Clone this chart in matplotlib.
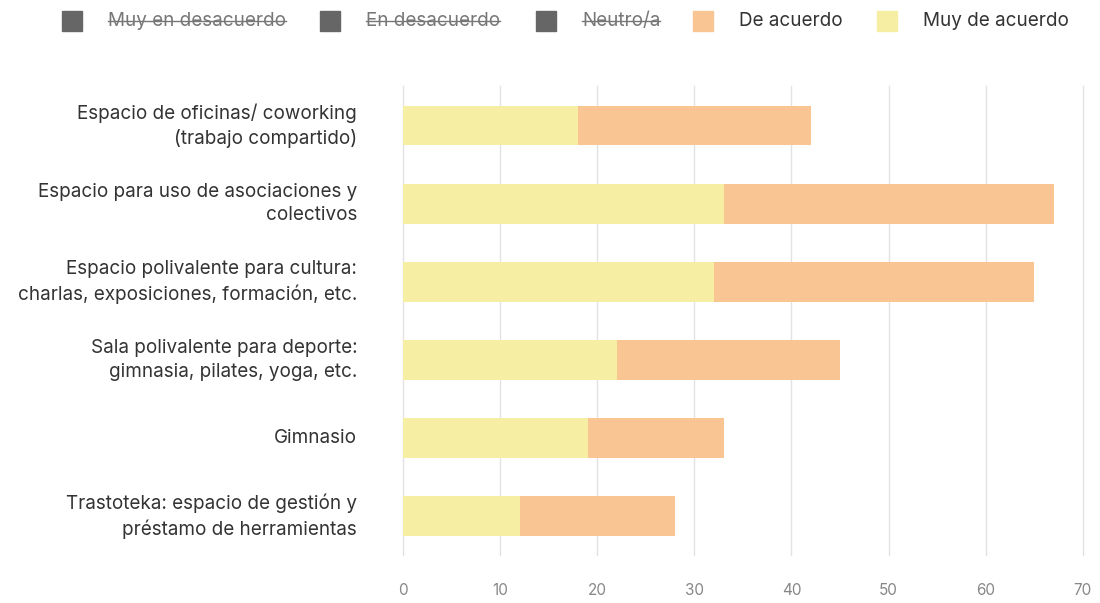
"""Stacked horizontal bars: opinion on uses for a space."""

import matplotlib.pyplot as plt
from matplotlib.lines import Line2D
import numpy as np

plt.rcParams["font.family"] = ["Inter", "DejaVu Sans"]

categories = [
    "Espacio de oficinas/ coworking\n(trabajo compartido)",
    "Espacio para uso de asociaciones y\ncolectivos",
    "Espacio polivalente para cultura:\ncharlas, exposiciones, formación, etc.",
    "Sala polivalente para deporte:\ngimnasia, pilates, yoga, etc.",
    "Gimnasio",
    "Trastoteka: espacio de gestión y\npréstamo de herramientas",
]
muy_de_acuerdo = [18, 33, 32, 22, 19, 12]
de_acuerdo = [24, 34, 33, 23, 14, 16]

legend_labels = ["Muy en desacuerdo", "En desacuerdo", "Neutro/a", "De acuerdo", "Muy de acuerdo"]
legend_colors = ["#666666", "#666666", "#666666", "#F8C593", "#F6EEA3"]
hidden = [True, True, True, False, False]


def main():
    fig = plt.figure(figsize=(11, 6.03), dpi=100)
    ax = fig.add_axes([0.3664, 0.0796, 0.618, 0.777])

    y = np.arange(len(categories))
    ax.barh(y, muy_de_acuerdo, height=0.51, color=legend_colors[4], zorder=2)
    ax.barh(y, de_acuerdo, left=muy_de_acuerdo, height=0.51, color=legend_colors[3], zorder=2)

    ax.set_ylim(len(categories) - 0.5, -0.5)
    ax.set_xlim(0, 70)
    ax.set_xticks(range(0, 71, 10))
    ax.set_yticks(y)
    ax.set_yticklabels(categories, fontsize=13.6, color="#333333", ha="right", va="center",
                       multialignment="right", linespacing=1.4)
    ax.tick_params(axis="y", length=0, pad=33)
    ax.tick_params(axis="x", length=0, pad=20, labelsize=11, labelcolor="#888888")
    ax.grid(axis="x", color="#e2e2e2", lw=1, zorder=0)
    for gl in ax.get_xgridlines():
        gl.set_clip_on(False)
    for s in ax.spines.values():
        s.set_visible(False)

    # legend built by hand so the hidden series can be struck through
    xs = [0.065, 0.300, 0.496, 0.639, 0.806]
    yl = 1 - 21 / 603
    texts = []
    for x, lab, col, h in zip(xs, legend_labels, legend_colors, hidden):
        fig.add_artist(Line2D([x], [yl], marker="s", ms=14, color=col, mec=col,
                              transform=fig.transFigure))
        t = fig.text(x + 0.033, yl, lab, fontsize=13.6, va="center",
                     color="#777777" if h else "#333333")
        texts.append(t)

    fig.canvas.draw()
    inv = fig.transFigure.inverted()
    for t, h in zip(texts, hidden):
        if not h:
            continue
        bb = t.get_window_extent().transformed(inv)
        fig.add_artist(Line2D([bb.x0, bb.x1], [yl, yl], color="#777777", lw=1,
                              transform=fig.transFigure))

    fig.savefig("out.png", dpi=100)


if __name__ == "__main__":
    main()
